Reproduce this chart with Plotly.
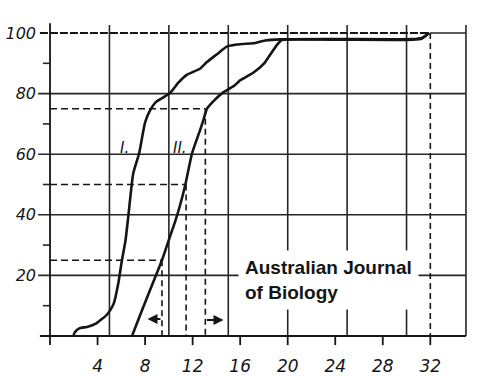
import plotly.graph_objects as go

# ---- data ----
curve1_x = [1.97, 2.1, 2.5, 3.1, 3.9, 4.8, 5.35, 5.75, 6.05, 6.35, 6.6, 7.0, 7.5, 8.0, 8.45, 8.9,
            10.05, 10.8, 11.5, 12.65, 13.2, 14.05, 14.9, 16.0, 17.1, 18.1, 19.4, 24.0, 30.5, 31.3, 31.9]
curve1_y = [0, 1.3, 2.6, 3.0, 4.2, 7.1, 10.6, 17.5, 25, 31.5, 40, 53.6, 60.3, 70.5, 74.7, 77.2,
            80, 83.6, 86.2, 88.3, 90.4, 93.0, 95.6, 96.3, 96.6, 97.5, 97.9, 98.0, 98.0, 98.4, 100]

curve2_x = [6.9, 7.6, 8.3, 9.0, 9.42, 9.98, 10.54, 10.96, 11.39, 11.58, 11.95, 12.65, 12.93, 13.2,
            13.8, 14.6, 15.5, 16.0, 17.1, 18.0, 18.55, 19.1, 19.5, 24.0, 30.5, 31.3, 31.9]
curve2_y = [0, 7.1, 14.0, 20.9, 25.0, 31.5, 37.9, 43.4, 50.0, 53.6, 60.3, 68.2, 71.6, 75.0,
            77.7, 80.5, 82.6, 84.4, 86.9, 89.9, 93.0, 96.1, 97.7, 97.8, 97.8, 98.2, 100]

guide_levels = [25, 50, 75]          # percent levels marked with dashes
guide_x = [9.42, 11.45, 13.07]       # where curve II reaches them
end_x = 32                           # end of distribution (100 %)

x_ticks = [4, 8, 12, 16, 20, 24, 28, 32]
y_ticks = [20, 40, 60, 80, 100]
x_grid = [5, 10, 15, 20, 25, 30, 35]
y_grid = [20, 40, 60, 80]
y_minor = [10, 30, 50, 70, 90]

INK = "#151515"
GRID = "#262626"

fig = go.Figure()

fig.add_trace(go.Scatter(x=curve1_x, y=curve1_y, mode="lines",
                         line=dict(color=INK, width=2.6, shape="spline", smoothing=0.5),
                         hoverinfo="skip", showlegend=False))
fig.add_trace(go.Scatter(x=curve2_x, y=curve2_y, mode="lines",
                         line=dict(color=INK, width=2.6, shape="spline", smoothing=0.5),
                         hoverinfo="skip", showlegend=False))

shapes = []
def seg(x0, y0, x1, y1, color=GRID, width=1.6, dash="solid"):
    shapes.append(dict(type="line", xref="x", yref="y", x0=x0, y0=y0, x1=x1, y1=y1,
                       line=dict(color=color, width=width, dash=dash), layer="below"))

# vertical grid lines (extend a little above 100)
for gx in x_grid:
    seg(gx, 0, gx, 102.6)
# horizontal grid lines (start a little left of the axis)
for gy in y_grid:
    seg(-1.0, gy, 35, gy)
# minor ticks on y axis
for my in y_minor:
    seg(-0.6, my, 0, my)
# axes
seg(0, -3.0, 0, 103.2, color=INK, width=1.8)
seg(-0.85, 0, 35, 0, color=INK, width=1.8)
# x tick marks
for tx in x_ticks:
    seg(tx, 0, tx, -3.0, color=INK, width=1.8)
# top line: dashed to end_x, solid after
seg(-0.85, 100, end_x, 100, color=INK, width=1.8, dash="8px,2px")
seg(end_x, 100, 35, 100, color=GRID, width=1.4)
seg(end_x, 100, end_x, 0, color=INK, width=1.6, dash="6px,4px")
# dashed guides
for lv, gx in zip(guide_levels, guide_x):
    seg(0, lv, gx, lv, color=INK, width=1.6, dash="7px,4px")
    seg(gx, lv, gx, 0, color=INK, width=1.6, dash="6px,4px")

annotations = []
# arrows near the bottom
annotations.append(dict(x=8.2, y=5.6, ax=guide_x[0], ay=5.6, xref="x", yref="y", axref="x", ayref="y",
                        showarrow=True, arrowhead=2, arrowsize=1, arrowwidth=2, arrowcolor=INK, text=""))
annotations.append(dict(x=14.6, y=5.3, ax=guide_x[2], ay=5.3, xref="x", yref="y", axref="x", ayref="y",
                        showarrow=True, arrowhead=2, arrowsize=1, arrowwidth=2, arrowcolor=INK, text=""))
# curve labels
annotations.append(dict(x=6.3, y=62, xref="x", yref="y", text="I.", showarrow=False,
                        font=dict(family="DejaVu Sans", size=15, color=INK, style="italic")))
annotations.append(dict(x=10.9, y=62, xref="x", yref="y", text="II.", showarrow=False,
                        font=dict(family="DejaVu Sans", size=15, color=INK, style="italic")))
annotations.append(dict(x=17.1, y=106.3, xref="x", yref="y", text="61,1", showarrow=False,
                        font=dict(family="DejaVu Sans", size=15, color=INK, style="italic")))
# journal label with white background
annotations.append(dict(x=15.85, y=18.6, xref="x", yref="y", xanchor="left", yanchor="middle",
                        align="left", text="Australian Journal<br>of Biology", showarrow=False,
                        bgcolor="white", borderpad=6,
                        font=dict(family="Liberation Sans", size=19, color=INK, weight="bold")))

fig.update_layout(
    width=487, height=376,
    margin=dict(l=36, r=17, t=21, b=29, autoexpand=False),
    paper_bgcolor="white", plot_bgcolor="white",
    shapes=shapes, annotations=annotations,
    xaxis=dict(range=[-1.18, 35.34], tickvals=x_ticks, ticktext=[str(v) for v in x_ticks],
               showgrid=False, zeroline=False, showline=False, ticks="", ticklabelstandoff=7,
               automargin=False,
               tickfont=dict(family="DejaVu Sans", size=17, color=INK, style="italic")),
    yaxis=dict(range=[-3.63, 103.96], tickvals=y_ticks, ticktext=[str(v) for v in y_ticks],
               showgrid=False, zeroline=False, showline=False, ticks="", automargin=False,
               ticklabelstandoff=-1,
               tickfont=dict(family="DejaVu Sans", size=16, color=INK, style="italic")),
)

fig.write_html("out.html")
